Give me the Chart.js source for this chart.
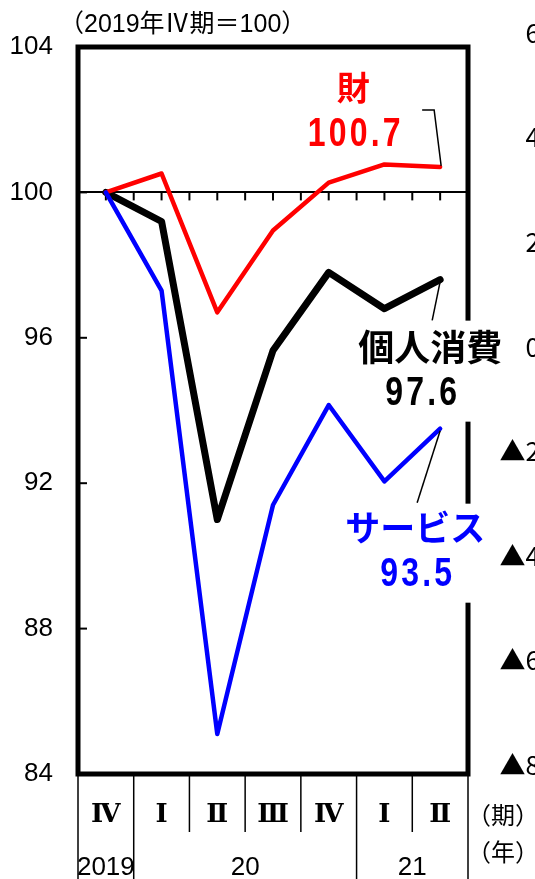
<!DOCTYPE html>
<html><head><meta charset="utf-8">
<script src="https://cdn.jsdelivr.net/npm/chart.js@4.4.1/dist/chart.umd.min.js"></script>
<style>
html,body{margin:0;padding:0;background:#fff;overflow:hidden;width:535px;height:879px;}
#wrap{position:absolute;left:0;top:0;width:535px;height:879px;}
#wrap2{position:absolute;left:460px;top:0;width:100px;height:879px;}
</style></head><body>
<div id="wrap"><canvas id="c"></canvas></div>
<div id="wrap2"><canvas id="c2"></canvas></div>
<script>
// ---- data ----
const quarters = ['Ⅳ','Ⅰ','Ⅱ','Ⅲ','Ⅳ','Ⅰ','Ⅱ'];
const years = ['2019','20','21'];
const yearSpans = [1,4,2];
const goods = [100, 100.52, 96.7, 98.95, 100.27, 100.77, 100.7];
const consumption = [100, 99.2, 91.0, 95.65, 97.8, 96.8, 97.6];
const services = [100, 97.3, 85.1, 91.4, 94.15, 92.05, 93.5];
const yTicks = [84, 88, 92, 96, 100, 104];
const rightTicks = [6, 4, 2, 0, -2, -4, -6, -8];
const titleText = '（2019年Ⅳ期＝100）';
const goodsLabel = ['財', '100.7'];
const consLabel = ['個人消費', '97.6'];
const servLabel = ['サービス', '93.5'];
const periodUnit = '（期）';
const yearUnit = '（年）';

const SANS = "'Liberation Sans','Noto Sans CJK JP',sans-serif";
const CJK = "'Noto Sans CJK JP',sans-serif";

// year centres / boundaries derived from spans
const yearCenters = [];
const yearBounds = [-0.5];
{ let s = -0.5; yearSpans.forEach(n => { yearCenters.push(s + n / 2); s += n; yearBounds.push(s); }); }

const decor = {
  id: 'decor',
  beforeDatasetsDraw(chart) {
    const { ctx, chartArea: a, scales: { y, x2 } } = chart;
    ctx.save();
    ctx.strokeStyle = '#000';
    ctx.lineWidth = 2;
    const y100 = y.getPixelForValue(100);
    for (let k = 0; k <= (quarters.length - 1) * 2; k++) {
      const px = x2.getPixelForValue(k / 2);
      ctx.beginPath(); ctx.moveTo(px, y100); ctx.lineTo(px, y100 + 8); ctx.stroke();
    }
    yTicks.forEach(v => {
      if (v === y.min || v === y.max) return;
      const py = y.getPixelForValue(v);
      ctx.beginPath(); ctx.moveTo(a.left, py); ctx.lineTo(a.left + 9, py); ctx.stroke();
    });
    ctx.restore();
  },
  afterDatasetsDraw(chart) {
    const { ctx, chartArea: a, scales: { x, y, x2 } } = chart;
    ctx.save();
    // frame
    ctx.strokeStyle = '#000';
    ctx.lineWidth = 5;
    ctx.strokeRect(a.left, a.top, a.right - a.left, a.bottom - a.top);
    // table separators
    ctx.lineWidth = 1.5;
    for (let b = -0.5; b <= quarters.length - 0.5 + 1e-6; b += 1) {
      const px = x2.getPixelForValue(b);
      const full = yearBounds.some(v => Math.abs(v - b) < 1e-6);
      ctx.beginPath(); ctx.moveTo(px, a.bottom + 2); ctx.lineTo(px, full ? chart.height : a.bottom + 58); ctx.stroke();
    }
    // title
    ctx.fillStyle = '#000';
    ctx.font = "25px " + SANS;
    ctx.textAlign = 'left'; ctx.textBaseline = 'middle';
    ctx.fillText(titleText, a.left - 19, 25);
    // units
    ctx.font = "24px " + CJK;
    ctx.fillText(periodUnit, a.right - 1, 815);
    ctx.fillText(yearUnit, a.right - 1, 852);

    const last = quarters.length - 1;
    const lx = x.getPixelForValue(last);
    const num = (t, cx, cy, color) => {
      ctx.save();
      ctx.font = "bold 40px 'Liberation Sans',sans-serif";
      ctx.letterSpacing = '4px';
      ctx.fillStyle = color; ctx.textAlign = 'center'; ctx.textBaseline = 'middle';
      ctx.translate(cx, cy);
      ctx.scale(0.8, 1);
      ctx.fillText(t, 2, 0);
      ctx.restore();
    };
    const lead = (pts) => {
      ctx.strokeStyle = '#000'; ctx.lineWidth = 1.5;
      ctx.beginPath(); ctx.moveTo(pts[0][0], pts[0][1]);
      for (let i = 1; i < pts.length; i++) ctx.lineTo(pts[i][0], pts[i][1]);
      ctx.stroke();
    };
    // goods
    let py = y.getPixelForValue(goods[last]);
    lead([[lx - 18, py - 57], [lx - 6, py - 57], [lx + 1, py - 1]]);
    ctx.font = "bold 33px " + CJK; ctx.fillStyle = '#ff0000';
    ctx.textAlign = 'center'; ctx.textBaseline = 'middle';
    ctx.fillText(goodsLabel[0], lx - 87, py - 80);
    num(goodsLabel[1], lx - 86, py - 32, '#ff0000');
    // consumption
    py = y.getPixelForValue(consumption[last]);
    lead([[lx, py + 2], [lx - 8, py + 41]]);
    ctx.fillStyle = '#fff';
    ctx.fillRect(lx - 90, py + 41, 155, 101);
    ctx.font = "bold 36px " + CJK; ctx.fillStyle = '#000';
    ctx.textAlign = 'center'; ctx.textBaseline = 'middle';
    ctx.fillText(consLabel[0], lx - 10, py + 68);
    num(consLabel[1], lx - 19, py + 114, '#000');
    // services
    py = y.getPixelForValue(services[last]);
    lead([[lx, py + 2], [lx - 23, py + 74]]);
    ctx.fillStyle = '#fff';
    ctx.fillRect(lx - 100, py + 75, 152, 99);
    ctx.font = "bold 35px " + CJK; ctx.fillStyle = '#0000ff';
    ctx.textAlign = 'center'; ctx.textBaseline = 'middle';
    ctx.fillText(servLabel[0], lx - 25, py + 99);
    num(servLabel[1], lx - 24, py + 146, '#0000ff');
    ctx.restore();
  }
};

new Chart(document.getElementById('c'), {
  type: 'line',
  data: {
    labels: quarters,
    datasets: [
      { label: 'サービス', data: services, borderColor: '#0000ff', borderWidth: 4.5 },
      { label: '財', data: goods, borderColor: '#ff0000', borderWidth: 4.5 },
      { label: '個人消費', data: consumption, borderColor: '#000000', borderWidth: 7 }
    ]
  },
  options: {
    responsive: true, maintainAspectRatio: false, animation: false,
    elements: { point: { radius: 0, hoverRadius: 0 }, line: { tension: 0, borderJoinStyle: 'round', borderCapStyle: 'round', fill: false } },
    layout: { padding: { top: 47, right: 67, left: 0, bottom: 0 } },
    plugins: { legend: { display: false }, tooltip: { enabled: false }, title: { display: false } },
    scales: {
      y: {
        min: 84, max: 104,
        afterBuildTicks: s => { s.ticks = yTicks.map(v => ({ value: v })); },
        afterFit: s => { s.width = 78; },
        ticks: { color: '#000', font: { size: 26, family: SANS }, padding: 25 },
        grid: { drawTicks: false, color: c => (c.tick && c.tick.value === 100) ? '#000' : 'rgba(0,0,0,0)', lineWidth: 2 },
        border: { display: false }
      },
      x: {
        type: 'category', offset: true, weight: 1,
        afterFit: s => { s.height = 58; },
        ticks: { color: '#000', font: { size: 26, family: "'DejaVu Serif','Liberation Serif',serif", weight: 'bold' }, padding: 26, autoSkip: false, maxRotation: 0, minRotation: 0 },
        grid: { display: false, drawTicks: false },
        border: { display: false }
      },
      x2: {
        type: 'linear', position: 'bottom', weight: 2,
        min: -0.5, max: quarters.length - 0.5,
        afterBuildTicks: s => { s.ticks = yearCenters.map(v => ({ value: v })); },
        afterFit: s => { s.height = 47; },
        ticks: { color: '#000', font: { size: 26, family: SANS }, padding: 20, autoSkip: false, maxRotation: 0, minRotation: 0,
                 callback: (v, i) => years[i] },
        grid: { display: false, drawTicks: false },
        border: { display: false }
      }
    }
  },
  plugins: [decor]
});

// fragment of the neighbouring chart's axis on the right edge
new Chart(document.getElementById('c2'), {
  type: 'line',
  data: { labels: [''], datasets: [] },
  options: {
    responsive: true, maintainAspectRatio: false, animation: false,
    layout: { padding: { top: 33, bottom: 114, left: 0, right: 0 } },
    plugins: { legend: { display: false }, tooltip: { enabled: false } },
    scales: {
      x: { display: false },
      y: {
        min: -8, max: 6,
        afterBuildTicks: s => { s.ticks = rightTicks.map(v => ({ value: v })); },
        afterFit: s => { s.width = 84; },
        ticks: { color: '#000', font: { size: 26, family: "'Noto Sans CJK JP','Liberation Sans',sans-serif" }, padding: 4,
                 callback: v => v < 0 ? '▲' + (-v) : String(v) },
        grid: { display: false, drawTicks: false },
        border: { display: false }
      }
    }
  }
});
</script>
</body></html>
